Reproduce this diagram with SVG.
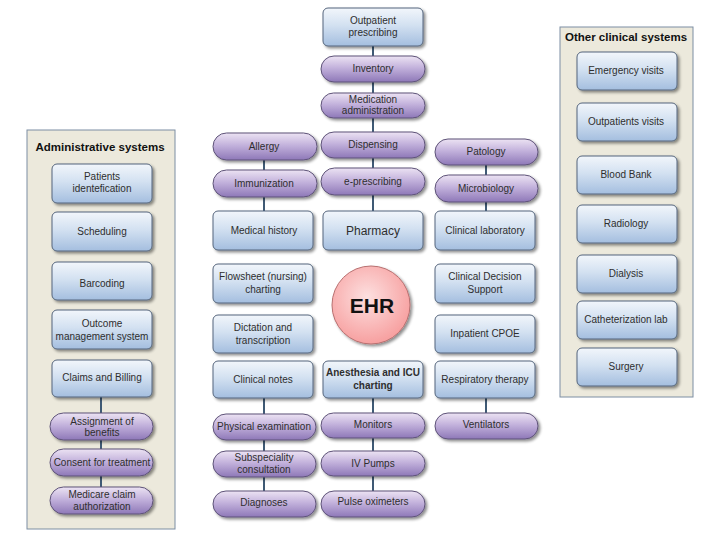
<svg xmlns="http://www.w3.org/2000/svg" width="720" height="540" viewBox="0 0 720 540">
<defs>
<linearGradient id="gBox" x1="0" y1="0" x2="0" y2="1">
<stop offset="0" stop-color="#f2f6fb"/>
<stop offset="0.45" stop-color="#d3e1f1"/>
<stop offset="1" stop-color="#a4bedf"/>
</linearGradient>
<linearGradient id="gPill" x1="0" y1="0" x2="0" y2="1">
<stop offset="0" stop-color="#ece3f3"/>
<stop offset="0.45" stop-color="#c3b2dc"/>
<stop offset="1" stop-color="#8e78b8"/>
</linearGradient>
<radialGradient id="gEHR" cx="0.45" cy="0.4" r="0.6">
<stop offset="0" stop-color="#fde0e0"/>
<stop offset="1" stop-color="#f7a0a0"/>
</radialGradient>
<filter id="sh" x="-10%" y="-10%" width="125%" height="135%">
<feGaussianBlur in="SourceAlpha" stdDeviation="1.5"/>
<feOffset dx="1.5" dy="2" result="b"/>
<feComponentTransfer><feFuncA type="linear" slope="0.45"/></feComponentTransfer>
<feMerge><feMergeNode/><feMergeNode in="SourceGraphic"/></feMerge>
</filter>
</defs>
<style>
.panel{fill:#ece9dc;stroke:#7d8ea3;stroke-width:1}
.box{fill:url(#gBox);stroke:#55657c;stroke-width:1;filter:url(#sh)}
.pill{fill:url(#gPill);stroke:#5e5378;stroke-width:1;filter:url(#sh)}
.t{font-family:"Liberation Sans",Arial,sans-serif;font-size:10px;fill:#2e2e2e;text-anchor:middle}
.big{font-size:12px}
.b{font-weight:bold}
.title{font-family:"Liberation Sans",Arial,sans-serif;font-size:11.5px;font-weight:bold;fill:#111;text-anchor:middle}
.c{stroke:#3f5a75;stroke-width:2;fill:none}
</style>
<rect width="720" height="540" fill="#ffffff"/>

<g id="panel-admin">
<rect class="panel" x="27" y="130" width="148" height="399"/>
<text class="title" x="100" y="151">Administrative systems</text>
</g>
<g id="panel-other">
<rect class="panel" x="560" y="27" width="133" height="370"/>
<text class="title" x="626" y="41">Other clinical systems</text>
</g>

<g id="connectors">
<line class="c" x1="101" y1="397" x2="101" y2="413"/>
<line class="c" x1="101" y1="440" x2="101" y2="449"/>
<line class="c" x1="101" y1="476" x2="101" y2="487"/>
<line class="c" x1="373" y1="46" x2="373" y2="56"/>
<line class="c" x1="373" y1="82" x2="373" y2="93"/>
<line class="c" x1="373" y1="118" x2="373" y2="132"/>
<line class="c" x1="373" y1="158" x2="373" y2="168"/>
<line class="c" x1="373" y1="195" x2="373" y2="211"/>
<line class="c" x1="264" y1="160" x2="264" y2="170"/>
<line class="c" x1="264" y1="197" x2="264" y2="211"/>
<line class="c" x1="486" y1="165" x2="486" y2="175"/>
<line class="c" x1="486" y1="202" x2="486" y2="211"/>
<line class="c" x1="264" y1="398" x2="264" y2="414"/>
<line class="c" x1="264" y1="440" x2="264" y2="451"/>
<line class="c" x1="264" y1="477" x2="264" y2="491"/>
<line class="c" x1="373" y1="398" x2="373" y2="413"/>
<line class="c" x1="373" y1="438" x2="373" y2="451"/>
<line class="c" x1="373" y1="476" x2="373" y2="491"/>
<line class="c" x1="486" y1="398" x2="486" y2="413"/>
</g>

<g id="patients-identification"><rect class="box" x="52" y="164" width="100" height="39" rx="5"/><text class="t" x="102" y="180">Patients</text><text class="t" x="102" y="192">identefication</text></g>
<g id="scheduling"><rect class="box" x="52" y="212" width="100" height="39" rx="5"/><text class="t" x="102" y="235">Scheduling</text></g>
<g id="barcoding"><rect class="box" x="52" y="262" width="100" height="38" rx="5"/><text class="t" x="102" y="287">Barcoding</text></g>
<g id="outcome"><rect class="box" x="52" y="310" width="100" height="39" rx="5"/><text class="t" x="102" y="327">Outcome</text><text class="t" x="102" y="340">management system</text></g>
<g id="claims"><rect class="box" x="52" y="360" width="100" height="37" rx="5"/><text class="t" x="102" y="381">Claims and Billing</text></g>
<g id="assignment"><rect class="pill" x="50" y="413" width="103" height="27" rx="13.5"/><text class="t" x="102" y="425">Assignment of</text><text class="t" x="102" y="436">benefits</text></g>
<g id="consent"><rect class="pill" x="50" y="449" width="103" height="27" rx="13.5"/><text class="t" x="102" y="466">Consent for treatment</text></g>
<g id="medicare"><rect class="pill" x="50" y="487" width="103" height="27" rx="13.5"/><text class="t" x="102" y="498">Medicare claim</text><text class="t" x="102" y="510">authorization</text></g>

<g id="outpatient-prescribing"><rect class="box" x="323" y="8" width="100" height="38" rx="5"/><text class="t" x="373" y="24">Outpatient</text><text class="t" x="373" y="36">prescribing</text></g>
<g id="inventory"><rect class="pill" x="321" y="56" width="104" height="26" rx="13"/><text class="t" x="373" y="72">Inventory</text></g>
<g id="medication-administration"><rect class="pill" x="321" y="93" width="104" height="25" rx="12.5"/><text class="t" x="373" y="103">Medication</text><text class="t" x="373" y="114">administration</text></g>
<g id="dispensing"><rect class="pill" x="321" y="132" width="104" height="26" rx="13"/><text class="t" x="373" y="148">Dispensing</text></g>
<g id="e-prescribing"><rect class="pill" x="321" y="168" width="104" height="27" rx="13.5"/><text class="t" x="373" y="185">e-prescribing</text></g>
<g id="pharmacy"><rect class="box" x="323" y="211" width="100" height="39" rx="5"/><text class="t big" x="373" y="235">Pharmacy</text></g>

<g id="allergy"><rect class="pill" x="213" y="133" width="104" height="27" rx="13.5"/><text class="t" x="264" y="150">Allergy</text></g>
<g id="immunization"><rect class="pill" x="213" y="170" width="104" height="27" rx="13.5"/><text class="t" x="264" y="187">Immunization</text></g>
<g id="medical-history"><rect class="box" x="213" y="211" width="100" height="39" rx="5"/><text class="t" x="264" y="234">Medical history</text></g>

<g id="patology"><rect class="pill" x="435" y="139" width="103" height="26" rx="13"/><text class="t" x="486" y="155">Patology</text></g>
<g id="microbiology"><rect class="pill" x="435" y="175" width="103" height="27" rx="13.5"/><text class="t" x="486" y="192">Microbiology</text></g>
<g id="clinical-laboratory"><rect class="box" x="435" y="211" width="100" height="39" rx="5"/><text class="t" x="485" y="234">Clinical laboratory</text></g>

<g id="flowsheet"><rect class="box" x="213" y="264" width="100" height="39" rx="5"/><text class="t" x="263" y="280">Flowsheet (nursing)</text><text class="t" x="263" y="293">charting</text></g>
<g id="ehr"><circle cx="371" cy="305" r="39" fill="url(#gEHR)" stroke="#b87070" stroke-width="1" filter="url(#sh)"/><text x="372" y="313" font-family="'Liberation Sans',Arial,sans-serif" font-size="21" font-weight="bold" fill="#111111" text-anchor="middle">EHR</text></g>
<g id="clinical-decision-support"><rect class="box" x="435" y="264" width="100" height="39" rx="5"/><text class="t" x="485" y="280">Clinical Decision</text><text class="t" x="485" y="293">Support</text></g>
<g id="dictation"><rect class="box" x="213" y="315" width="100" height="38" rx="5"/><text class="t" x="263" y="331">Dictation and</text><text class="t" x="263" y="344">transcription</text></g>
<g id="inpatient-cpoe"><rect class="box" x="435" y="315" width="100" height="38" rx="5"/><text class="t" x="485" y="337">Inpatient CPOE</text></g>
<g id="clinical-notes"><rect class="box" x="213" y="361" width="100" height="37" rx="5"/><text class="t" x="263" y="383">Clinical notes</text></g>
<g id="anesthesia"><rect class="box" x="323" y="361" width="100" height="37" rx="5"/><text class="t b" x="373" y="376">Anesthesia and ICU</text><text class="t b" x="373" y="389">charting</text></g>
<g id="respiratory"><rect class="box" x="435" y="361" width="100" height="37" rx="5"/><text class="t" x="485" y="383">Respiratory therapy</text></g>

<g id="physical-examination"><rect class="pill" x="213" y="414" width="103" height="26" rx="13"/><text class="t" x="264" y="430">Physical examination</text></g>
<g id="subspeciality"><rect class="pill" x="213" y="451" width="103" height="26" rx="13"/><text class="t" x="264" y="461">Subspeciality</text><text class="t" x="264" y="473">consultation</text></g>
<g id="diagnoses"><rect class="pill" x="213" y="491" width="103" height="26" rx="13"/><text class="t" x="264" y="506">Diagnoses</text></g>
<g id="monitors"><rect class="pill" x="321" y="413" width="104" height="25" rx="12.5"/><text class="t" x="373" y="428">Monitors</text></g>
<g id="iv-pumps"><rect class="pill" x="321" y="451" width="104" height="25" rx="12.5"/><text class="t" x="373" y="467">IV Pumps</text></g>
<g id="pulse-oximeters"><rect class="pill" x="321" y="491" width="104" height="26" rx="13"/><text class="t" x="373" y="505">Pulse oximeters</text></g>
<g id="ventilators"><rect class="pill" x="435" y="413" width="103" height="26" rx="13"/><text class="t" x="486" y="428">Ventilators</text></g>

<g id="emergency-visits"><rect class="box" x="577" y="52" width="100" height="38" rx="5"/><text class="t" x="626" y="74">Emergency visits</text></g>
<g id="outpatients-visits"><rect class="box" x="577" y="103" width="100" height="38" rx="5"/><text class="t" x="626" y="125">Outpatients visits</text></g>
<g id="blood-bank"><rect class="box" x="577" y="156" width="100" height="38" rx="5"/><text class="t" x="626" y="178">Blood Bank</text></g>
<g id="radiology"><rect class="box" x="577" y="205" width="100" height="38" rx="5"/><text class="t" x="626" y="227">Radiology</text></g>
<g id="dialysis"><rect class="box" x="577" y="255" width="100" height="38" rx="5"/><text class="t" x="626" y="277">Dialysis</text></g>
<g id="catheterization-lab"><rect class="box" x="577" y="301" width="100" height="38" rx="5"/><text class="t" x="626" y="323">Catheterization lab</text></g>
<g id="surgery"><rect class="box" x="577" y="348" width="100" height="38" rx="5"/><text class="t" x="626" y="370">Surgery</text></g>
</svg>
